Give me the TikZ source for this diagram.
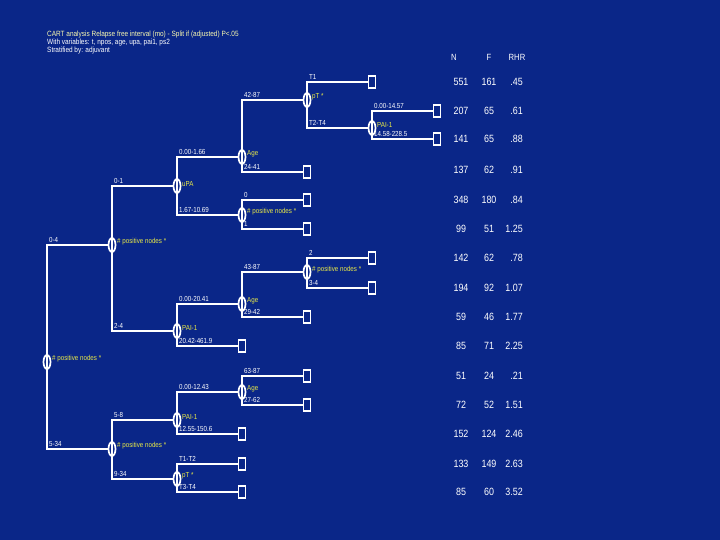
\documentclass[tikz,border=0pt]{standalone}
\usepackage{fontspec}
\setmainfont{Liberation Sans}[FakeStretch=0.85]
\usetikzlibrary{shapes.geometric}
\definecolor{bgblue}{RGB}{10,38,136}
\definecolor{nodeyellow}{RGB}{235,235,70}
\definecolor{titleyellow}{RGB}{250,250,175}
\pgfdeclarelayer{bg}\pgfdeclarelayer{edges}\pgfsetlayers{bg,edges,main}
\newcommand\brnch[3]{%
  \begin{pgfonlayer}{edges}\draw[br] (#1.center) |- (#2);\end{pgfonlayer}%
  \path (#1.center |- #2) ++(2,-2.5) node[blab] {#3};}
\newcommand\tabrow[5]{%
  \node[num] (n#1) at (461,#2) {#3};
  \node[num] (f#1) at (489,#2) {#4};
  \node[num,anchor=east] (r#1) at (523,#2) {#5};}
\begin{document}
\begin{tikzpicture}[x=1pt,y=-1pt,
  oval/.style={ellipse,draw=white,line width=1.7pt,minimum width=7pt,minimum height=14pt,inner sep=0pt},
  term/.style={rectangle,draw=white,line width=1.7pt,minimum width=7pt,minimum height=12pt,inner sep=0pt},
  br/.style={draw=white,line width=2pt},
  vlab/.style={text=nodeyellow,font=\fontsize{7.3}{8}\selectfont,anchor=west,inner sep=0pt},
  blab/.style={text=white,font=\fontsize{7.3}{8}\selectfont,anchor=south west,inner sep=0pt},
  num/.style={text=white,font=\fontsize{10.5}{12}\selectfont,inner sep=0pt},
  ttl/.style={anchor=west,font=\fontsize{7.6}{8}\selectfont,inner sep=0pt},
]
\begin{pgfonlayer}{bg}
\fill[bgblue] (0,0) rectangle (720,540);
\end{pgfonlayer}
\useasboundingbox (0,0) rectangle (720,540);

% title
\node[ttl,text=titleyellow] (title1) at (47,35) {CART analysis Relapse free interval (mo) - Split if (adjusted) P<.05};
\node[ttl,text=white] (title2) at (47,43) {With variables: t, npos, age, upa, pai1, ps2};
\node[ttl,text=white] (title3) at (47,51) {Stratified by: adjuvant};

% internal nodes
\node[oval] (R) at (47,362) {};
\node[oval] (A) at (112,245) {};
\node[oval] (B) at (177,186) {};
\node[oval] (C) at (242,157) {};
\node[oval] (D) at (307,100) {};
\node[oval] (E) at (372,128) {};
\node[oval] (F) at (242,215) {};
\node[oval] (I) at (177,331) {};
\node[oval] (Ag2) at (242,304) {};
\node[oval] (G) at (307,272) {};
\node[oval] (K) at (112,449) {};
\node[oval] (M) at (177,420) {};
\node[oval] (Ag3) at (242,392) {};
\node[oval] (P2) at (177,479) {};

% variable labels
\node[vlab] (lR) at (52,359) {\# positive nodes *};
\node[vlab] (lA) at (117,242) {\# positive nodes *};
\node[vlab] (lB) at (182,184) {uPA};
\node[vlab] (lC) at (247,154) {Age};
\node[vlab] (lD) at (312,97) {pT *};
\node[vlab] (lE) at (377,125) {PAI-1};
\node[vlab] (lF) at (247,212) {\# positive nodes *};
\node[vlab] (lI) at (182,328) {PAI-1};
\node[vlab] (lAg2) at (247,301) {Age};
\node[vlab] (lG) at (312,270) {\# positive nodes *};
\node[vlab] (lK) at (117,446) {\# positive nodes *};
\node[vlab] (lM) at (182,417) {PAI-1};
\node[vlab] (lAg3) at (247,389) {Age};
\node[vlab] (lP2) at (182,476) {pT *};

% terminal nodes
\node[term] (t1) at (372,82) {};
\node[term] (t2) at (437,111) {};
\node[term] (t3) at (437,139) {};
\node[term] (t4) at (307,172) {};
\node[term] (t5) at (307,200) {};
\node[term] (t6) at (307,229) {};
\node[term] (t7) at (372,258) {};
\node[term] (t8) at (372,288) {};
\node[term] (t9) at (307,317) {};
\node[term] (t10) at (242,346) {};
\node[term] (t11) at (307,376) {};
\node[term] (t12) at (307,405) {};
\node[term] (t13) at (242,434) {};
\node[term] (t14) at (242,464) {};
\node[term] (t15) at (242,492) {};

% branches
\brnch{R}{A}{0-4}
\brnch{R}{K}{5-34}
\brnch{A}{B}{0-1}
\brnch{A}{I}{2-4}
\brnch{B}{C}{0.00-1.66}
\brnch{B}{F}{1.67-10.69}
\brnch{C}{D}{42-87}
\brnch{C}{t4}{24-41}
\brnch{D}{t1}{T1}
\brnch{D}{E}{T2-T4}
\brnch{E}{t2}{0.00-14.57}
\brnch{E}{t3}{14.58-228.5}
\brnch{F}{t5}{0}
\brnch{F}{t6}{1}
\brnch{I}{Ag2}{0.00-20.41}
\brnch{I}{t10}{20.42-461.9}
\brnch{Ag2}{G}{43-87}
\brnch{Ag2}{t9}{29-42}
\brnch{G}{t7}{2}
\brnch{G}{t8}{3-4}
\brnch{K}{M}{5-8}
\brnch{K}{P2}{9-34}
\brnch{M}{Ag3}{0.00-12.43}
\brnch{M}{t13}{12.55-150.6}
\brnch{Ag3}{t11}{63-87}
\brnch{Ag3}{t12}{27-62}
\brnch{P2}{t14}{T1-T2}
\brnch{P2}{t15}{T3-T4}

% table
\node[num,font=\fontsize{9}{10}\selectfont] (hN) at (454,57) {N};
\node[num,font=\fontsize{9}{10}\selectfont] (hF) at (489,57) {F};
\node[num,font=\fontsize{9}{10}\selectfont] (hR) at (517,57) {RHR};
\tabrow{1}{82}{551}{161}{.45}
\tabrow{2}{111}{207}{65}{.61}
\tabrow{3}{139}{141}{65}{.88}
\tabrow{4}{170}{137}{62}{.91}
\tabrow{5}{200}{348}{180}{.84}
\tabrow{6}{229}{99}{51}{1.25}
\tabrow{7}{258}{142}{62}{.78}
\tabrow{8}{288}{194}{92}{1.07}
\tabrow{9}{317}{59}{46}{1.77}
\tabrow{10}{346}{85}{71}{2.25}
\tabrow{11}{376}{51}{24}{.21}
\tabrow{12}{405}{72}{52}{1.51}
\tabrow{13}{434}{152}{124}{2.46}
\tabrow{14}{464}{133}{149}{2.63}
\tabrow{15}{492}{85}{60}{3.52}
\end{tikzpicture}
\end{document}
